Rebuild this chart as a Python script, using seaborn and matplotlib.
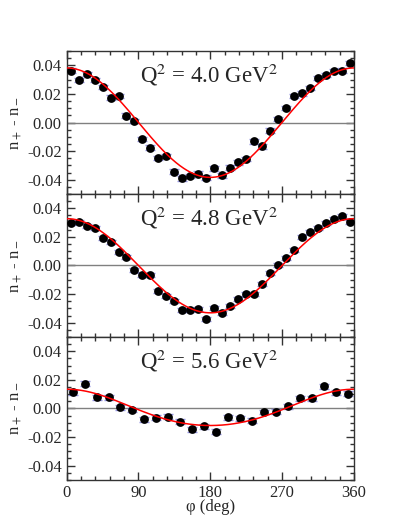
import numpy as np
import pandas as pd
import matplotlib
matplotlib.use("Agg")
import matplotlib.pyplot as plt
import seaborn as sns
from matplotlib.ticker import MultipleLocator, FuncFormatter

# phi bins (deg)
phi_36 = [5, 15, 25, 35, 45, 55, 65, 75, 85, 95, 105, 115, 125, 135, 145, 155, 165, 175,
          185, 195, 205, 215, 225, 235, 245, 255, 265, 275, 285, 295, 305, 315, 325, 335, 345, 355]
phi_24 = [7.5, 22.5, 37.5, 52.5, 67.5, 82.5, 97.5, 112.5, 127.5, 142.5, 157.5, 172.5,
          187.5, 202.5, 217.5, 232.5, 247.5, 262.5, 277.5, 292.5, 307.5, 322.5, 337.5, 352.5]

# n+ - n- values
asym_q40 = [0.0364, 0.0298, 0.0341, 0.0298, 0.0250, 0.0174, 0.0186, 0.0048, 0.0012,
            -0.0114, -0.0176, -0.0247, -0.0233, -0.0343, -0.0390, -0.0373, -0.0357, -0.0386,
            -0.0321, -0.0369, -0.0316, -0.0278, -0.0254, -0.0131, -0.0166, -0.0057, 0.0026,
            0.0103, 0.0186, 0.0205, 0.0241, 0.0312, 0.0334, 0.0360, 0.0364, 0.0417]
asym_q48 = [0.0300, 0.0307, 0.0277, 0.0265, 0.0190, 0.0162, 0.0096, 0.0056, -0.0033,
            -0.0068, -0.0068, -0.0179, -0.0214, -0.0251, -0.0308, -0.0310, -0.0305, -0.0373,
            -0.0296, -0.0329, -0.0280, -0.0232, -0.0197, -0.0197, -0.0127, -0.0056, 0.0002,
            0.0054, 0.0108, 0.0201, 0.0237, 0.0260, 0.0296, 0.0324, 0.0347, 0.0303]
asym_q56 = [0.0112, 0.0173, 0.0079, 0.0077, 0.0008, -0.0011, -0.0077, -0.0065, -0.0058,
            -0.0093, -0.0145, -0.0124, -0.0164, -0.0062, -0.0069, -0.0086, -0.0025, -0.0023,
            0.0016, 0.0072, 0.0072, 0.0154, 0.0112, 0.0103]
err_q40 = [0.0016] * 36
err_q48 = [0.0014] * 36
err_q56 = [0.0017] * 24

panels = [
    ("Q$^2$ = 4.0 GeV$^2$", phi_36, asym_q40, err_q40),
    ("Q$^2$ = 4.8 GeV$^2$", phi_36, asym_q48, err_q48),
    ("Q$^2$ = 5.6 GeV$^2$", phi_24, asym_q56, err_q56),
]

sns.set_style("ticks")
plt.rcParams["font.family"] = ["Liberation Serif", "DejaVu Serif"]
plt.rcParams["mathtext.fontset"] = "stix"

fig, axes = plt.subplots(3, 1, figsize=(3.99, 5.16), dpi=100, sharex=True)
fig.subplots_adjust(left=0.167, right=0.887, top=0.901, bottom=0.07, hspace=0)

fmt = FuncFormatter(lambda v, p: f"{v:.2f}".replace("\u2212", "-"))
phi_fine = np.linspace(0, 360, 361)

for ax, (label, phi, asym, err) in zip(axes, panels):
    ph = np.radians(phi)
    design = np.column_stack([np.ones_like(ph), np.cos(ph), np.cos(2 * ph)])
    coef, *_ = np.linalg.lstsq(design, np.array(asym), rcond=None)
    pf = np.radians(phi_fine)
    fit = coef[0] + coef[1] * np.cos(pf) + coef[2] * np.cos(2 * pf)

    ax.axhline(0, color="#808080", lw=1.0, zorder=1)
    ax.errorbar(phi, asym, yerr=err, fmt="none", ecolor="#7070d8", elinewidth=1.0,
                capsize=3.6, capthick=1.0, alpha=0.75, zorder=2)
    df = pd.DataFrame({"phi": phi, "asym": asym})
    sns.scatterplot(data=df, x="phi", y="asym", ax=ax, color="black", s=40,
                    edgecolor="black", linewidth=0, zorder=3)
    sns.lineplot(x=phi_fine, y=fit, ax=ax, color="red", lw=1.1, zorder=4)

    ax.text(178, 0.033, label, ha="center", va="center", fontsize=16.5)
    ax.set_xlim(0, 360)
    ax.set_ylim(-0.05, 0.05)
    ax.xaxis.set_major_locator(MultipleLocator(90))
    ax.xaxis.set_minor_locator(MultipleLocator(18))
    ax.yaxis.set_major_locator(MultipleLocator(0.02))
    ax.yaxis.set_minor_locator(MultipleLocator(0.005))
    ax.yaxis.set_major_formatter(fmt)
    ax.tick_params(which="both", direction="in", top=True, right=True, labelsize=12,
                   color="#333333")
    ax.tick_params(which="major", length=6, width=1)
    ax.tick_params(which="minor", length=3, width=1)
    for s in ax.spines.values():
        s.set_linewidth(1.0)
        s.set_color("#333333")
    ax.set_ylabel("n$_+$ - n$_-$", fontsize=12, labelpad=2)
    ax.set_xlabel("")

axes[-1].set_xlabel("φ (deg)", fontsize=12, labelpad=-1)
fig.savefig("out.png", dpi=100)
